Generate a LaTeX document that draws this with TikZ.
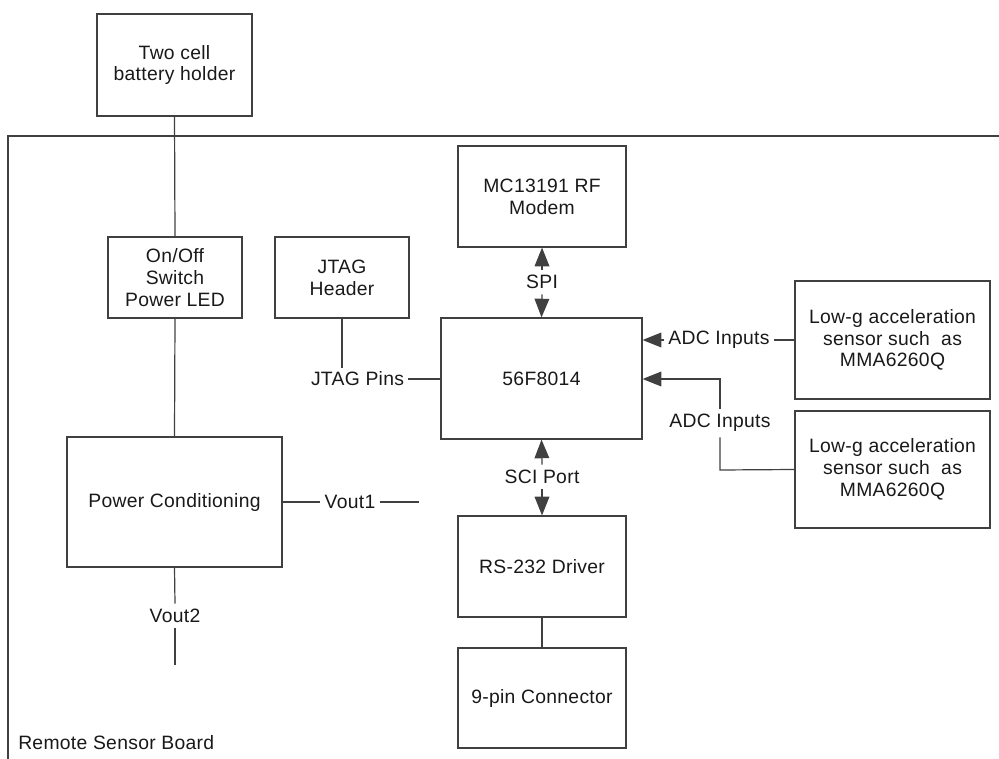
\documentclass[tikz,border=0pt]{standalone}
\usepackage{fontspec}
\setmainfont[LetterSpace=1.5]{Liberation Sans}
\usetikzlibrary{arrows.meta}
\begin{document}
\begin{tikzpicture}[x=0.75pt,y=-0.75pt,
  every node/.style={font=\fontsize{14.5}{16.3}\selectfont, text=black!90},
  blk/.style 2 args={draw=black!75, line width=0.9pt, minimum width={#1*0.75pt}, minimum height={#2*0.75pt}, align=center, inner sep=0pt},
  lbl/.style={inner sep=2pt, fill=none},
  wire/.style={draw=black!75, line width=0.9pt},
  arr/.style={wire, -{Triangle[length=14pt,width=11pt]}}
]
\useasboundingbox (0,0) rectangle (999,759);
% board outline
\coordinate (bl) at (8,759);
\coordinate (tl) at (8,136);
\coordinate (tr) at (999,136);
\draw[wire] (bl) -- (tl) -- (tr);
\node[anchor=west, inner sep=0pt] (board) at (18,743) {Remote Sensor Board};

% blocks
\node[blk={155}{102}] (bat) at (174.5,65) {Two cell\\battery holder};
\node[blk={134}{81}] (sw) at (175,277.5) {On/Off\\Switch\\Power LED};
\node[blk={134}{81}] (jtag) at (342,277.5) {JTAG\\Header};
\node[blk={215}{130}] (pwr) at (174.5,502) {Power Conditioning};
\node[blk={168}{101}] (rf) at (542,196.5) {MC13191 RF\\Modem};
\node[blk={201}{121}] (mcu) at (541.5,378.5) {56F8014};
\node[blk={168}{101}] (rs) at (542,566.5) {RS-232 Driver};
\node[blk={168}{100}] (db9) at (542,698) {9-pin Connector};
\node[blk={195}{118}] (s1) at (892.5,340) {Low-g acceleration\\sensor such\ \ as\\MMA6260Q};
\node[blk={195}{117}] (s2) at (892.5,469.5) {Low-g acceleration\\sensor such\ \ as\\MMA6260Q};

% power path
\draw[wire] (bat.south) -- (sw.north);
\draw[wire] (sw.south) -- (pwr.north);

% Vout1
\node[lbl, inner sep=3pt] (v1) at (350,502) {Vout1};
\coordinate (v1end) at (419,502);
\draw[wire] (pwr.east) -- (v1.west);
\draw[wire] (v1.east) -- (v1end);

% Vout2
\node[lbl, inner sep=4pt] (v2) at (175,616) {Vout2};
\coordinate (v2end) at (175,665);
\draw[wire] (pwr.south) -- (v2.north);
\draw[wire] (v2.south) -- (v2end);

% JTAG
\node[lbl, inner sep=3pt] (jp) at (357.5,379) {JTAG Pins};
\draw[wire] (jtag.south) -- (jtag.south |- jp.north);
\draw[wire] (jp.east) -- (mcu.west |- jp);

% SPI
\node[lbl, inner sep=4pt] (spi) at (542,282) {SPI};
\draw[arr] (spi.north) -- (rf.south);
\draw[arr] (spi.south) -- (mcu.north);

% SCI
\node[lbl, inner sep=4pt] (sci) at (542,477) {SCI Port};
\draw[arr] (sci.north) -- (mcu.south);
\draw[arr] (sci.south) -- (rs.north);

\draw[wire] (rs.south) -- (db9.north);

% ADC 1
\node[lbl, inner sep=3pt] (adc1) at (719,340) {ADC Inputs};
\draw[arr] (adc1.west) -- (mcu.east |- adc1);
\draw[wire] (adc1.east) -- (s1.west);

% ADC 2
\node[lbl, inner sep=4pt] (adc2) at (720,423) {ADC Inputs};
\coordinate (c2) at (720,379);
\coordinate (c3) at (720,470);
\draw[wire] (s2.west) -- (c3) -- (adc2.south);
\draw[arr] (adc2.north) -- (c2) -- (mcu.east |- c2);
\end{tikzpicture}
\end{document}
